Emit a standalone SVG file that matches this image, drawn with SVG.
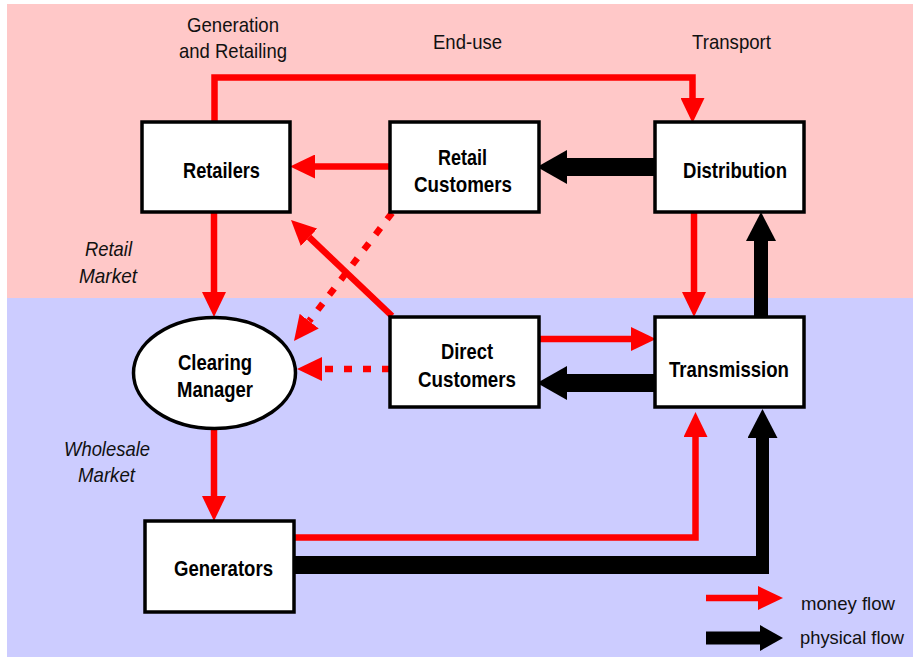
<svg xmlns="http://www.w3.org/2000/svg" width="913" height="657" viewBox="0 0 913 657">
<style>
.box{fill:#fff;stroke:#000;stroke-width:3.5}
.nt{font-family:"Liberation Sans",Arial,sans-serif;font-size:22px;font-weight:bold;fill:#000}
.lb{font-family:"Liberation Sans",Arial,sans-serif;font-size:21px;fill:#111}
.lg{font-size:18.5px}
.it{font-style:italic}
.r{fill:none;stroke:#f00;stroke-width:6.5;stroke-linejoin:miter;stroke-linecap:butt}
.d{stroke-dasharray:8 11}
.k{fill:none;stroke:#000;stroke-linecap:butt}
</style>
<defs>
<marker id="rh" markerUnits="userSpaceOnUse" viewBox="0 0 25 24" refX="0" refY="12" markerWidth="25" markerHeight="24" orient="auto"><path d="M0,0L25,12L0,24z" fill="#f00"/></marker>
<marker id="bh" markerUnits="userSpaceOnUse" viewBox="0 0 30 34" refX="0" refY="17" markerWidth="30" markerHeight="34" orient="auto"><path d="M0,0L30,17L0,34z" fill="#000"/></marker>
<marker id="bv" markerUnits="userSpaceOnUse" viewBox="0 0 29 30" refX="0" refY="15" markerWidth="29" markerHeight="30" orient="auto"><path d="M0,0L29,15L0,30z" fill="#000"/></marker>
<marker id="bl" markerUnits="userSpaceOnUse" viewBox="0 0 23 26" refX="0" refY="13" markerWidth="23" markerHeight="26" orient="auto"><path d="M0,0L23,13L0,26z" fill="#000"/></marker>
</defs>
<rect x="7" y="4" width="906" height="294" fill="#ffc8c8"/>
<rect x="7" y="298" width="906" height="359" fill="#ccccff"/>
<g id="labels">
<text class="lb" x="187" y="32" textLength="92" lengthAdjust="spacingAndGlyphs">Generation</text>
<text class="lb" x="179" y="58" textLength="108" lengthAdjust="spacingAndGlyphs">and Retailing</text>
<text class="lb" x="433" y="49" textLength="69" lengthAdjust="spacingAndGlyphs">End-use</text>
<text class="lb" x="692" y="49" textLength="79" lengthAdjust="spacingAndGlyphs">Transport</text>
<text class="lb it" x="85" y="256" textLength="47" lengthAdjust="spacingAndGlyphs">Retail</text>
<text class="lb it" x="79" y="283" textLength="58" lengthAdjust="spacingAndGlyphs">Market</text>
<text class="lb it" x="64" y="456" textLength="86" lengthAdjust="spacingAndGlyphs">Wholesale</text>
<text class="lb it" x="78" y="482" textLength="57" lengthAdjust="spacingAndGlyphs">Market</text>
<text class="lb lg" x="801" y="610" textLength="94" lengthAdjust="spacingAndGlyphs">money flow</text>
<text class="lb lg" x="800" y="644" textLength="104" lengthAdjust="spacingAndGlyphs">physical flow</text>
</g>
<g id="connectors">
<path class="r" d="M214.5,122V77.5H692.5V98" marker-end="url(#rh)"/>
<path class="r" d="M390,166.5H315" marker-end="url(#rh)"/>
<path class="k" stroke-width="18" d="M654,167H567" marker-end="url(#bh)"/>
<path class="r" d="M214,212V292" marker-end="url(#rh)"/>
<path class="r d" d="M392,213L309.2,321.1" marker-end="url(#rh)"/>
<path class="r" d="M392,316L309.1,237.2" marker-end="url(#rh)"/>
<path class="r d" d="M390,369H322" marker-end="url(#rh)"/>
<path class="r" d="M539,339H631" marker-end="url(#rh)"/>
<path class="k" stroke-width="18" d="M654,383H567" marker-end="url(#bh)"/>
<path class="r" d="M694,212V292" marker-end="url(#rh)"/>
<path class="k" stroke-width="14" d="M761,317V241" marker-end="url(#bv)"/>
<path class="r" d="M214,429V496" marker-end="url(#rh)"/>
<path class="r" d="M294,537.5H695.5V437" marker-end="url(#rh)"/>
<path class="k" stroke-width="18" d="M294,565H769"/>
<path class="k" stroke-width="13" d="M762.5,574V438" marker-end="url(#bv)"/>
<path class="r" d="M706,598H758" marker-end="url(#rh)"/>
<path class="k" stroke-width="13" d="M706,638H760" marker-end="url(#bl)"/>
</g>
<g id="retailers">
<rect class="box" x="142" y="122" width="148" height="90"/>
<text class="nt" x="183" y="178" textLength="77" lengthAdjust="spacingAndGlyphs">Retailers</text>
</g>
<g id="retail-customers">
<rect class="box" x="390" y="122" width="149" height="90"/>
<text class="nt" x="438" y="165" textLength="49" lengthAdjust="spacingAndGlyphs">Retail</text>
<text class="nt" x="414" y="192" textLength="98" lengthAdjust="spacingAndGlyphs">Customers</text>
</g>
<g id="distribution">
<rect class="box" x="655" y="122" width="149" height="90"/>
<text class="nt" x="683" y="178" textLength="104" lengthAdjust="spacingAndGlyphs">Distribution</text>
</g>
<g id="clearing-manager">
<ellipse class="box" cx="214.5" cy="373" rx="81" ry="55.5"/>
<text class="nt" x="178" y="370" textLength="74" lengthAdjust="spacingAndGlyphs">Clearing</text>
<text class="nt" x="177" y="397" textLength="76" lengthAdjust="spacingAndGlyphs">Manager</text>
</g>
<g id="direct-customers">
<rect class="box" x="390" y="317" width="149" height="90"/>
<text class="nt" x="441" y="359" textLength="52" lengthAdjust="spacingAndGlyphs">Direct</text>
<text class="nt" x="418" y="387" textLength="98" lengthAdjust="spacingAndGlyphs">Customers</text>
</g>
<g id="transmission">
<rect class="box" x="655" y="317" width="149" height="90"/>
<text class="nt" x="669" y="377" textLength="120" lengthAdjust="spacingAndGlyphs">Transmission</text>
</g>
<g id="generators">
<rect class="box" x="145" y="521" width="149" height="91"/>
<text class="nt" x="174" y="576" textLength="99" lengthAdjust="spacingAndGlyphs">Generators</text>
</g>
</svg>
